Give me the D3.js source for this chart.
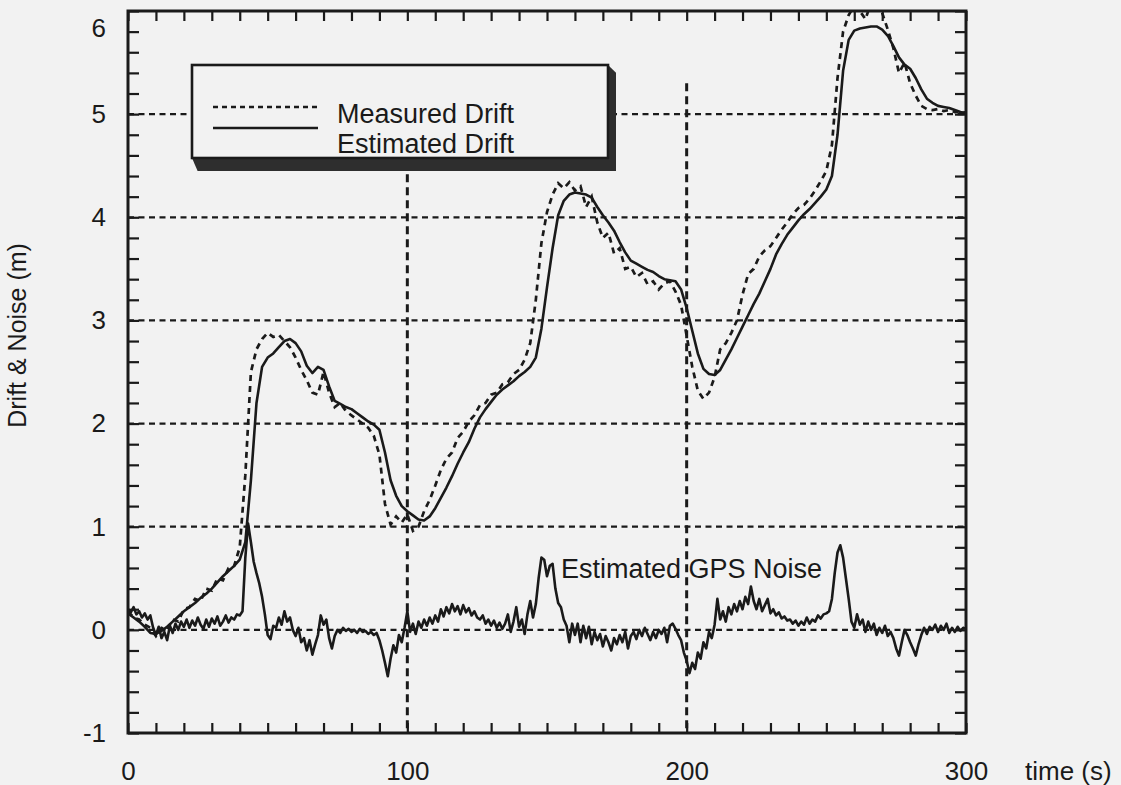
<!DOCTYPE html>
<html>
<head>
<meta charset="utf-8">
<script src="https://cdn.jsdelivr.net/npm/d3@7"></script>
<style>
  html, body { margin: 0; padding: 0; background: #f2f2f2; }
  svg { display: block; font-family: "Liberation Sans", Arial, Helvetica, sans-serif; }
</style>
</head>
<body>
<svg id="chart" width="1121" height="785"></svg>
<script>
// Sampling interval (s) of each recorded series
const driftTimeStep = 2;
const noiseTimeStep = 1;

// Measured drift (m), one value every 2 s from t = 0 to 300 s
const measuredDrift = [
  0.18, 0.12, 0.10, 0.05, 0.02, -0.06, 0.02, 0.00, 0.10, 0.08,
  0.20, 0.22, 0.30, 0.28, 0.40, 0.38, 0.50, 0.48, 0.60, 0.62,
  0.80, 1.50, 2.50, 2.72, 2.82, 2.88, 2.84, 2.86, 2.80, 2.74,
  2.64, 2.52, 2.42, 2.30, 2.28, 2.50, 2.30, 2.16, 2.20, 2.12,
  2.08, 2.04, 2.00, 1.96, 1.88, 1.70, 1.22, 1.02, 1.10, 1.04,
  1.12, 0.96, 1.00, 1.15, 1.26, 1.40, 1.55, 1.66, 1.72, 1.86,
  1.92, 2.02, 2.08, 2.18, 2.20, 2.28, 2.30, 2.38, 2.40, 2.48,
  2.52, 2.62, 2.78, 3.20, 3.75, 4.05, 4.22, 4.33, 4.28, 4.34,
  4.26, 4.30, 4.10, 4.20, 3.95, 3.80, 3.85, 3.65, 3.70, 3.50,
  3.52, 3.42, 3.46, 3.35, 3.38, 3.30, 3.36, 3.38, 3.28, 3.15,
  2.85, 2.55, 2.32, 2.24, 2.30, 2.45, 2.72, 2.78, 2.88, 3.00,
  3.25, 3.45, 3.50, 3.62, 3.68, 3.72, 3.80, 3.88, 3.95, 4.03,
  4.09, 4.12, 4.18, 4.26, 4.35, 4.45, 4.70, 5.35, 5.80, 5.96,
  6.05, 6.00, 5.92, 6.08, 6.10, 5.98, 5.82, 5.64, 5.40, 5.50,
  5.30, 5.18, 5.08, 5.05, 5.04, 5.05, 5.03, 5.04, 5.02, 5.03,
  5.01
];

// Estimated drift (m), one value every 2 s from t = 0 to 300 s
const estimatedDrift = [
  0.16, 0.12, 0.08, 0.03, -0.03, -0.04, -0.01, 0.03, 0.08, 0.13,
  0.18, 0.22, 0.26, 0.31, 0.35, 0.40, 0.46, 0.52, 0.57, 0.62,
  0.68, 0.85, 1.45, 2.20, 2.55, 2.64, 2.68, 2.74, 2.80, 2.82,
  2.78, 2.70, 2.56, 2.49, 2.55, 2.52, 2.36, 2.22, 2.19, 2.16,
  2.14, 2.10, 2.06, 2.02, 1.99, 1.94, 1.72, 1.45, 1.30, 1.20,
  1.15, 1.11, 1.07, 1.06, 1.10, 1.18, 1.28, 1.38, 1.49, 1.61,
  1.72, 1.82, 1.95, 2.06, 2.14, 2.21, 2.28, 2.33, 2.37, 2.41,
  2.46, 2.50, 2.55, 2.64, 2.92, 3.32, 3.70, 4.02, 4.16, 4.22,
  4.24, 4.23, 4.22, 4.19, 4.10, 4.02, 3.95, 3.87, 3.76, 3.66,
  3.58, 3.55, 3.52, 3.49, 3.47, 3.43, 3.40, 3.39, 3.38, 3.30,
  3.12, 2.90, 2.68, 2.53, 2.48, 2.47, 2.52, 2.62, 2.72, 2.83,
  2.94, 3.05, 3.16, 3.26, 3.38, 3.50, 3.64, 3.74, 3.83, 3.90,
  3.97, 4.03, 4.08, 4.14, 4.20, 4.27, 4.40, 4.80, 5.42, 5.72,
  5.81, 5.83, 5.84, 5.85, 5.85, 5.82, 5.76, 5.66, 5.55, 5.48,
  5.44, 5.35, 5.24, 5.15, 5.11, 5.08, 5.07, 5.06, 5.04, 5.02,
  5.01
];

// Estimated GPS noise (m), one value every second from t = 0 to 300 s
const gpsNoise = [
  0.20, 0.17, 0.22, 0.15, 0.18, 0.12, 0.16, 0.10, 0.14, 0.02,
  -0.05, 0.03, -0.08, -0.02, -0.10, 0.04, -0.03, 0.06, 0.00, 0.08,
  0.03, 0.10, 0.02, 0.09, 0.04, 0.12, 0.05, 0.01, 0.10, 0.03,
  0.11, 0.06, 0.13, 0.04, 0.08, 0.14, 0.07, 0.12, 0.10, 0.15,
  0.14, 0.18, 0.70, 1.03, 0.85, 0.66, 0.55, 0.45, 0.32, 0.15,
  -0.05, -0.09, 0.04, 0.02, 0.12, 0.05, 0.18, 0.08, 0.12, 0.00,
  -0.06, 0.02, -0.12, -0.08, -0.20, -0.10, -0.24, -0.14, -0.05, 0.14,
  0.05, 0.10, -0.08, -0.18, -0.06, 0.00, -0.03, 0.02, -0.01, 0.01,
  -0.02, 0.00, -0.03, 0.01, -0.02, -0.01, -0.04, -0.02, -0.05, -0.03,
  -0.10, -0.20, -0.32, -0.45, -0.28, -0.15, -0.22, -0.05, -0.12, 0.02,
  0.18, -0.02, 0.06, -0.04, 0.08, 0.02, 0.10, 0.04, 0.12, 0.06,
  0.14, 0.08, 0.20, 0.13, 0.22, 0.16, 0.25, 0.18, 0.23, 0.15,
  0.24, 0.17, 0.21, 0.14, 0.18, 0.12, 0.10, 0.14, 0.06, 0.10,
  0.04, 0.09, 0.02, 0.07, 0.01, 0.06, 0.15, -0.02, 0.08, 0.22,
  0.03, 0.10, -0.04, 0.15, 0.28, 0.12, 0.25, 0.50, 0.70, 0.68,
  0.52, 0.62, 0.64, 0.40, 0.26, 0.22, 0.10, 0.04, -0.12, 0.06,
  -0.05, 0.06, -0.12, 0.04, -0.08, 0.03, -0.14, -0.02, -0.10, -0.04,
  -0.16, -0.06, -0.12, -0.20, -0.08, -0.14, -0.05, -0.12, -0.02, -0.18,
  -0.06, -0.02, -0.09, 0.00, -0.06, 0.02, -0.04, -0.10, -0.02, -0.08,
  0.00, -0.04, 0.02, -0.12, 0.04, 0.06, 0.01, -0.05, -0.10, -0.22,
  -0.30, -0.42, -0.32, -0.38, -0.22, -0.28, -0.12, -0.18, -0.02, -0.08,
  0.05, 0.30, 0.10, 0.18, 0.08, 0.22, 0.15, 0.25, 0.18, 0.28,
  0.20, 0.32, 0.25, 0.42, 0.28, 0.20, 0.30, 0.18, 0.24, 0.30,
  0.16, 0.20, 0.14, 0.17, 0.11, 0.13, 0.09, 0.10, 0.06, 0.09,
  0.04, 0.08, 0.05, 0.12, 0.06, 0.10, 0.08, 0.14, 0.11, 0.15,
  0.16, 0.18, 0.30, 0.55, 0.75, 0.82, 0.70, 0.50, 0.30, 0.08,
  0.02, 0.15, 0.05, 0.10, -0.02, 0.08, 0.00, 0.06, -0.05, 0.02,
  -0.03, 0.04, -0.06, -0.02, -0.08, -0.18, -0.25, -0.12, 0.00, -0.05,
  -0.12, -0.18, -0.25, -0.14, -0.05, 0.02, -0.04, 0.03, 0.00, 0.05,
  -0.02, 0.04, 0.00, 0.06, -0.03, 0.02, -0.02, 0.03, -0.01, 0.02,
  0.01
];

// Axis ticks, grid and text
const xTickLabels = [0, 100, 200, 300];
const yTickLabels = [-1, 0, 1, 2, 3, 4, 5, 6];
const xGridValues = [100, 200];
const yGridValues = [0, 1, 2, 3, 4, 5];
const xMinorStep = 10;
const yMinorStep = 0.2;
const seriesNames = ["Measured Drift", "Estimated Drift"];
const noiseLabel = "Estimated GPS Noise";
const xTitle = "time (s)";
const yTitle = "Drift & Noise (m)";

const W = 1121, H = 785;
const plot = { left: 128, right: 966, top: 11, bottom: 733 };
const ink = "#1a1a1a";
const bg = "#f2f2f2";

const svg = d3.select("#chart");
svg.append("rect").attr("width", W).attr("height", H).attr("fill", bg);

const x = d3.scaleLinear().domain([0, 300]).range([plot.left, plot.right]);
const y = d3.scaleLinear().domain([-1, 6]).range([plot.bottom, plot.top]);

svg.append("defs").append("clipPath").attr("id", "plotClip")
  .append("rect")
  .attr("x", plot.left).attr("y", plot.top)
  .attr("width", plot.right - plot.left).attr("height", plot.bottom - plot.top);

// Dashed grid
const grid = svg.append("g");
grid.selectAll("line.h").data(yGridValues).join("line")
  .attr("x1", plot.left).attr("x2", plot.right)
  .attr("y1", d => y(d)).attr("y2", d => y(d))
  .attr("stroke", ink).attr("stroke-width", 2.3)
  .attr("stroke-dasharray", "6,4.5");
const vGridTop = 5.3;
grid.selectAll("line.v").data(xGridValues).join("line")
  .attr("x1", d => x(d)).attr("x2", d => x(d))
  .attr("y1", y(vGridTop)).attr("y2", plot.bottom)
  .attr("stroke", ink).attr("stroke-width", 3)
  .attr("stroke-dasharray", "8,5");

// Series
const curves = svg.append("g").attr("clip-path", "url(#plotClip)");
const lineOf = step => d3.line().x((d, i) => x(i * step)).y(d => y(d));

curves.append("path").datum(gpsNoise)
  .attr("d", lineOf(noiseTimeStep))
  .attr("fill", "none").attr("stroke", ink).attr("stroke-width", 2.6)
  .attr("stroke-linejoin", "round");

curves.append("path").datum(estimatedDrift)
  .attr("d", lineOf(driftTimeStep))
  .attr("fill", "none").attr("stroke", ink).attr("stroke-width", 2.6)
  .attr("stroke-linejoin", "round");

curves.append("path").datum(measuredDrift)
  .attr("d", lineOf(driftTimeStep))
  .attr("fill", "none").attr("stroke", ink).attr("stroke-width", 2.7)
  .attr("stroke-dasharray", "6,5");

// Noise annotation
svg.append("text")
  .attr("x", x(155)).attr("y", y(0.5))
  .attr("font-size", 27).attr("fill", ink)
  .text(noiseLabel);

// Frame and inward ticks
const axes = svg.append("g");
const xMinor = d3.range(0, 300 + 1e-9, xMinorStep);
const yMinor = d3.range(-1, 6 + 1e-9, yMinorStep);
const tickStyle = g => {
  g.select(".domain").remove();
  g.selectAll(".tick line").attr("stroke", ink).attr("stroke-width", 2.2);
};
axes.append("g").attr("transform", `translate(0,${plot.bottom})`)
  .call(d3.axisBottom(x).tickValues(xMinor).tickSize(-10).tickFormat(""))
  .call(tickStyle);
axes.append("g").attr("transform", `translate(0,${plot.top})`)
  .call(d3.axisTop(x).tickValues(xMinor).tickSize(-10).tickFormat(""))
  .call(tickStyle);
axes.append("g").attr("transform", `translate(${plot.left},0)`)
  .call(d3.axisLeft(y).tickValues(yMinor).tickSize(-11).tickFormat(""))
  .call(tickStyle);
axes.append("g").attr("transform", `translate(${plot.right},0)`)
  .call(d3.axisRight(y).tickValues(yMinor).tickSize(-11).tickFormat(""))
  .call(tickStyle);

axes.append("rect")
  .attr("x", plot.left).attr("y", plot.top)
  .attr("width", plot.right - plot.left).attr("height", plot.bottom - plot.top)
  .attr("fill", "none").attr("stroke", ink).attr("stroke-width", 3);

// Tick labels (plain hyphen for the negative value)
const plainNumber = d => String(d);
const labelStyle = g => {
  g.select(".domain").remove();
  g.selectAll(".tick line").remove();
  g.selectAll("text").attr("font-size", 26).attr("fill", ink)
    .attr("font-family", "'Liberation Sans', Arial, Helvetica, sans-serif");
};
axes.append("g").attr("transform", `translate(0,${plot.bottom})`)
  .call(d3.axisBottom(x).tickValues(xTickLabels).tickSize(0).tickPadding(29).tickFormat(plainNumber))
  .call(labelStyle);
axes.append("g").attr("transform", `translate(${plot.left},0)`)
  .call(d3.axisLeft(y).tickValues(yTickLabels).tickSize(0).tickPadding(22).tickFormat(plainNumber))
  .call(labelStyle)
  .call(g => g.selectAll("text").attr("y", d => Math.max(0, plot.top + 17 - y(d))));

// Axis titles
svg.append("text")
  .attr("x", x(300) + 59).attr("y", plot.bottom + 47)
  .attr("font-size", 26).attr("fill", ink)
  .text(xTitle);
svg.append("text")
  .attr("transform", `translate(26,${(y(4) + y(2)) / 2 + 15}) rotate(-90)`)
  .attr("text-anchor", "middle")
  .attr("font-size", 25).attr("fill", ink)
  .text(yTitle);

// Legend box with bevelled shadow
const lg = { x: 192, y: 65, w: 416, h: 93, dx: 8, dy: 13 };
const legend = svg.append("g");
legend.append("path")
  .attr("d", `M${lg.x},${lg.y + lg.h} L${lg.x + lg.dx * 0.7},${lg.y + lg.h + lg.dy} ` +
             `L${lg.x + lg.w + lg.dx},${lg.y + lg.h + lg.dy} L${lg.x + lg.w + lg.dx},${lg.y + lg.dy * 0.6} ` +
             `L${lg.x + lg.w},${lg.y} Z`)
  .attr("fill", "#2e2e2e");
legend.append("rect")
  .attr("x", lg.x).attr("y", lg.y).attr("width", lg.w).attr("height", lg.h)
  .attr("fill", bg).attr("stroke", ink).attr("stroke-width", 2.6);

const legendRows = [
  { name: seriesNames[0], dash: "5,4", lineY: lg.y + 42, textY: lg.y + 58 },
  { name: seriesNames[1], dash: null, lineY: lg.y + 63, textY: lg.y + 88 }
];
legendRows.forEach(r => {
  legend.append("line")
    .attr("x1", lg.x + 21).attr("x2", lg.x + 126)
    .attr("y1", r.lineY).attr("y2", r.lineY)
    .attr("stroke", ink).attr("stroke-width", 2.5)
    .attr("stroke-dasharray", r.dash);
  legend.append("text")
    .attr("x", lg.x + 145).attr("y", r.textY)
    .attr("font-size", 27).attr("fill", ink)
    .text(r.name);
});
</script>
</body>
</html>
